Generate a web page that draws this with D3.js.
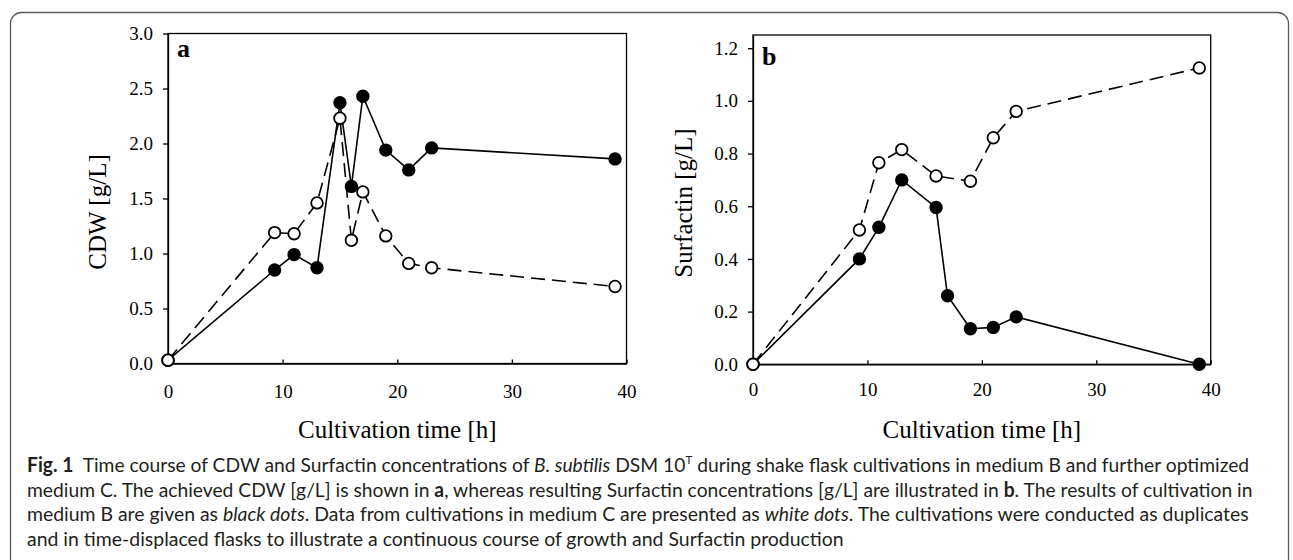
<!DOCTYPE html>
<html>
<head>
<meta charset="utf-8">
<script src="https://cdnjs.cloudflare.com/ajax/libs/d3/7.8.5/d3.min.js"></script>
<style>
    body { margin: 0; background: #fff; }
    svg { display: block; }
    .serif { font-family: "Liberation Serif", "Times New Roman", serif; fill: #000; }
    .cap { font-family: Lato, "Open Sans", sans-serif; fill: #231f20; white-space: pre; }
</style>
</head>
<body>
<svg id="figSvg" width="1293" height="560"></svg>
<script>
// panel a: CDW [g/L]
var timeA = [0, 9.3, 11, 13, 15, 16, 17, 19, 21, 23, 39];
var cdwMediumB = [0.03, 0.85, 0.99, 0.87, 2.37, 1.61, 2.43, 1.94, 1.76, 1.96, 1.86];
var cdwMediumC = [0.03, 1.19, 1.18, 1.46, 2.23, 1.12, 1.56, 1.16, 0.91, 0.87, 0.70];

// panel b: Surfactin [g/L]
var timeSurfB = [0, 9.3, 11, 13, 16, 17, 19, 21, 23, 39];
var surfMediumB = [0, 0.40, 0.52, 0.70, 0.595, 0.26, 0.135, 0.14, 0.18, 0];
var timeSurfC = [0, 9.3, 11, 13, 16, 19, 21, 23, 39];
var surfMediumC = [0, 0.51, 0.765, 0.815, 0.715, 0.695, 0.86, 0.96, 1.125];

var xTicks = [0, 10, 20, 30, 40];
var yTicksA = [0, 0.5, 1.0, 1.5, 2.0, 2.5, 3.0];
var yTicksB = [0, 0.2, 0.4, 0.6, 0.8, 1.0, 1.2];

var figView = (function () {

    var svg = d3.select("#figSvg");

    // rounded frame around figure + caption
    svg.append("rect")
        .attr("x", 10.5).attr("y", 12.5)
        .attr("width", 1278).attr("height", 620)
        .attr("rx", 11)
        .attr("fill", "none")
        .attr("stroke", "#5a5a5a")
        .attr("stroke-width", 1.3);

    function drawPanel(p) {
        var g = svg.append("g");
        var xScale = d3.scaleLinear().domain([0, 40]).range([p.left, p.right]);
        var yScale = d3.scaleLinear().domain([0, p.yMax]).range([p.bottom, p.top]);

        // box
        g.append("rect")
            .attr("x", p.left).attr("y", p.top)
            .attr("width", p.right - p.left).attr("height", p.bottom - p.top)
            .attr("fill", "none").attr("stroke", "#000").attr("stroke-width", 1.3);

        var yAxis = d3.axisLeft(yScale).tickValues(p.yTicks)
            .tickFormat(d3.format(".1f")).tickSize(5).tickSizeOuter(0).tickPadding(10);
        var gy = g.append("g").attr("transform", "translate(" + p.left + ",0)").call(yAxis);

        var xAxis = d3.axisBottom(xScale).tickValues(xTicks)
            .tickSize(-4).tickSizeOuter(0).tickPadding(p.xPad);
        var gx = g.append("g").attr("transform", "translate(0," + p.bottom + ")").call(xAxis);

        [gx, gy].forEach(function (a) {
            a.select(".domain").attr("stroke", "#000").attr("stroke-width", 1.3);
            a.selectAll(".tick line").attr("stroke", "#000").attr("stroke-width", 1.3);
            a.selectAll(".tick text")
                .attr("class", "serif")
                .style("font-size", "19px")
                .attr("fill", "#000");
        });

        // axis titles
        g.append("text").attr("class", "serif")
            .attr("x", (p.left + p.right) / 2).attr("y", 438)
            .attr("text-anchor", "middle")
            .style("font-size", "25px")
            .text("Cultivation time [h]");

        g.append("text").attr("class", "serif")
            .attr("transform", "translate(" + p.yTitleX + "," + p.yTitleY + ") rotate(-90)")
            .attr("text-anchor", "middle")
            .style("font-size", "25px")
            .text(p.yTitle);

        // panel letter
        g.append("text").attr("class", "serif")
            .attr("x", p.left + 9).attr("y", p.letterY)
            .style("font-size", "26px").style("font-weight", "bold")
            .text(p.letter);

        var lineFun = d3.line()
            .x(function (d) { return xScale(d[0]); })
            .y(function (d) { return yScale(d[1]); });

        p.series.forEach(function (s) {
            var pts = s.t.map(function (t, i) { return [t, s.v[i]]; });
            g.append("path")
                .attr("d", lineFun(pts))
                .attr("fill", "none")
                .attr("stroke", "#000")
                .attr("stroke-width", 1.6)
                .attr("stroke-dasharray", s.dash ? "14,7" : null);

            g.append("g").selectAll("circle").data(pts).enter()
                .append("circle")
                .attr("cx", function (d) { return xScale(d[0]); })
                .attr("cy", function (d) { return yScale(d[1]); })
                .attr("r", 5.8)
                .attr("fill", s.filled ? "#000" : "#fff")
                .attr("stroke", "#000")
                .attr("stroke-width", 1.8);
        });
    }

    drawPanel({
        left: 168, right: 626.5, top: 33.5, bottom: 363.5, yMax: 3.0,
        yTicks: yTicksA, xPad: 21, yTitle: "CDW [g/L]", yTitleX: 106, yTitleY: 212,
        letter: "a", letterY: 57,
        series: [
            { t: timeA, v: cdwMediumB, filled: true, dash: false },
            { t: timeA, v: cdwMediumC, filled: false, dash: true }
        ]
    });

    drawPanel({
        left: 753, right: 1210.7, top: 35, bottom: 364.3, yMax: 1.25,
        yTicks: yTicksB, xPad: 18, yTitle: "Surfactin [g/L]", yTitleX: 692, yTitleY: 203,
        letter: "b", letterY: 65,
        series: [
            { t: timeSurfB, v: surfMediumB, filled: true, dash: false },
            { t: timeSurfC, v: surfMediumC, filled: false, dash: true }
        ]
    });

    // caption, each line squeezed horizontally to the width it has in the figure
    var capLines = [
        { y: 472, w: 1223, parts: [["Fig. 1", "b"], ["  Time course of CDW and Surfactin concentrations of ", ""], ["B. subtilis", "i"],
            [" DSM 10", ""], ["T", "sup"], [" during shake flask cultivations in medium B and further optimized", ""]] },
        { y: 496.5, w: 1226, parts: [["medium C. The achieved CDW [g/L] is shown in ", ""], ["a", "b"],
            [", whereas resulting Surfactin concentrations [g/L] are illustrated in ", ""], ["b", "b"], [". The results of cultivation in", ""]] },
        { y: 521, w: 1223, parts: [["medium B are given as ", ""], ["black dots", "i"], [". Data from cultivations in medium C are presented as ", ""],
            ["white dots", "i"], [". The cultivations were conducted as duplicates", ""]] },
        { y: 545.5, w: 817, parts: [["and in time-displaced flasks to illustrate a continuous course of growth and Surfactin production", ""]] }
    ];

    capLines.forEach(function (ln) {
        var t = svg.append("text").attr("class", "cap")
            .attr("x", 0).attr("y", 0)
            .style("font-size", "20px");
        var raised = false;
        ln.parts.forEach(function (pt) {
            var ts = t.append("tspan").text(pt[0]);
            if (pt[1] === "b") ts.style("font-weight", "bold");
            if (pt[1] === "i") ts.style("font-style", "italic");
            if (pt[1] === "sup") { ts.attr("dy", -8).style("font-size", "12px"); raised = true; }
            else if (raised) { ts.attr("dy", 8); raised = false; }
        });
        var natural = t.node().getComputedTextLength();
        t.attr("transform", "translate(27," + ln.y + ") scale(" + (ln.w / natural) + ",1)");
    });

    return { svg: svg };
})();
</script>
</body>
</html>
